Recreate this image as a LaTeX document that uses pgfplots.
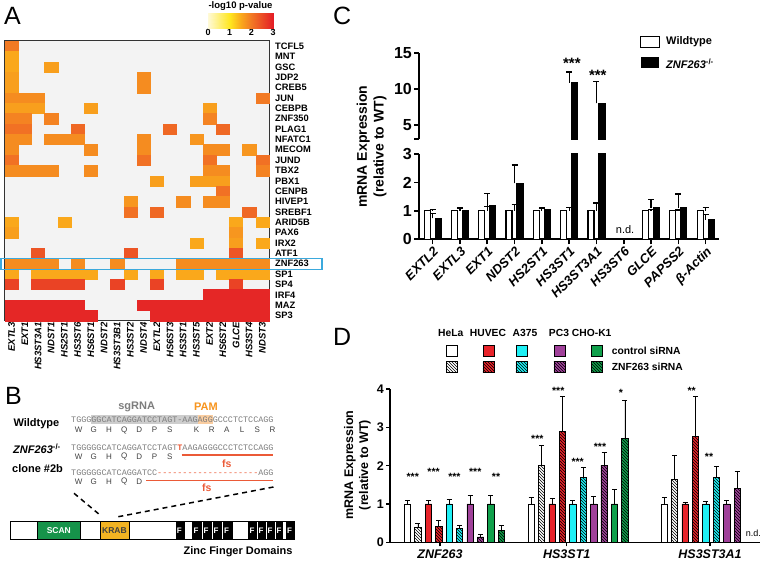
\documentclass[border=0pt]{standalone}
\usepackage{pgfplots}
\pgfplotsset{compat=1.18}
\usepackage{pgfplotstable}
\usepackage{fontspec}
\setmainfont{Liberation Sans}
\newfontfamily\seqfont{Liberation Mono}[Ligatures=TeXOff]
\usetikzlibrary{patterns}
\pgfplotsset{/pgf/number format/assume math mode=true}
\pgfplotsset{colormap={heat}{rgb255(0cm)=(255,250,215); rgb255(2cm)=(255,230,30); rgb255(3cm)=(250,168,27); rgb255(4cm)=(242,122,36); rgb255(6cm)=(228,30,38)}}
\definecolor{hmbg}{RGB}{243,243,243}
\definecolor{hlblue}{RGB}{59,169,221}
\definecolor{dred}{RGB}{232,35,42}
\definecolor{dcyan}{RGB}{30,240,245}
\definecolor{dpurple}{RGB}{160,65,154}
\definecolor{dgreen}{RGB}{16,160,75}
\definecolor{scangreen}{RGB}{22,147,74}
\definecolor{krab}{RGB}{242,179,34}
\definecolor{pamorange}{RGB}{247,148,29}
\definecolor{fsred}{RGB}{235,90,55}
\definecolor{seqgray}{RGB}{125,125,125}
\definecolor{sghl}{RGB}{205,205,205}
\definecolor{pamhl}{RGB}{250,205,160}

\pgfplotstableread{
x y v
0.5 0.5 2.0
0.5 1.5 1.5
0.5 2.5 1.5
3.5 2.5 1.6
0.5 3.5 1.6
10.5 3.5 1.8
0.5 4.5 1.6
10.5 4.5 1.8
0.5 5.5 1.8
1.5 5.5 1.8
2.5 5.5 1.8
19.5 5.5 2.0
0.5 6.5 1.6
1.5 6.5 1.6
2.5 6.5 1.6
6.5 6.5 1.6
15.5 6.5 1.6
0.5 7.5 1.9
1.5 7.5 1.9
3.5 7.5 1.9
15.5 7.5 1.9
0.5 8.5 2.1
1.5 8.5 2.1
5.5 8.5 2.2
12.5 8.5 2.2
16.5 8.5 2.2
0.5 9.5 1.8
1.5 9.5 1.8
3.5 9.5 1.8
4.5 9.5 1.8
5.5 9.5 1.8
10.5 9.5 1.8
14.5 9.5 1.7
0.5 10.5 1.8
6.5 10.5 1.8
10.5 10.5 1.8
15.5 10.5 1.8
16.5 10.5 1.8
18.5 10.5 1.7
0.5 11.5 2.1
10.5 11.5 2.1
15.5 11.5 2.1
19.5 11.5 2.1
0.5 12.5 1.8
1.5 12.5 1.8
2.5 12.5 1.8
3.5 12.5 1.8
6.5 12.5 1.8
15.5 12.5 1.8
16.5 12.5 1.8
19.5 12.5 1.9
11.5 13.5 1.6
14.5 13.5 1.6
15.5 13.5 1.6
16.5 13.5 1.6
16.5 14.5 2.1
9.5 15.5 1.7
13.5 15.5 1.8
15.5 15.5 1.8
16.5 15.5 1.8
9.5 16.5 2.1
11.5 16.5 2.2
18.5 16.5 2.2
0.5 17.5 1.5
4.5 17.5 1.5
17.5 17.5 1.5
19.5 17.5 1.5
0.5 18.5 1.6
17.5 18.5 1.7
14.5 19.5 1.5
17.5 19.5 1.6
19.5 19.5 1.5
2.5 20.5 2.4
9.5 20.5 2.4
17.5 20.5 2.4
0.5 21.5 1.8
1.5 21.5 1.8
2.5 21.5 1.8
3.5 21.5 1.8
5.5 21.5 1.8
8.5 21.5 1.8
13.5 21.5 1.8
14.5 21.5 1.8
15.5 21.5 1.8
16.5 21.5 1.8
17.5 21.5 1.8
18.5 21.5 1.8
19.5 21.5 1.8
0.5 22.5 1.5
2.5 22.5 1.5
3.5 22.5 1.5
4.5 22.5 1.5
5.5 22.5 1.5
6.5 22.5 1.5
9.5 22.5 1.5
11.5 22.5 1.5
13.5 22.5 1.5
14.5 22.5 1.5
16.5 22.5 1.5
17.5 22.5 1.5
18.5 22.5 1.5
19.5 22.5 1.5
0.5 23.5 2.6
2.5 23.5 2.6
3.5 23.5 2.6
4.5 23.5 2.6
5.5 23.5 2.6
8.5 23.5 2.6
11.5 23.5 2.6
17.5 23.5 2.6
15.5 24.5 2.9
16.5 24.5 2.9
17.5 24.5 2.9
18.5 24.5 2.9
19.5 24.5 2.9
0.5 25.5 2.9
1.5 25.5 2.9
2.5 25.5 2.9
3.5 25.5 2.9
4.5 25.5 2.9
5.5 25.5 2.9
10.5 25.5 2.9
11.5 25.5 2.9
12.5 25.5 2.9
13.5 25.5 2.9
14.5 25.5 2.9
15.5 25.5 2.9
16.5 25.5 2.9
17.5 25.5 2.9
18.5 25.5 2.9
19.5 25.5 2.9
0.5 26.5 2.9
1.5 26.5 2.9
2.5 26.5 2.9
3.5 26.5 2.9
4.5 26.5 2.9
5.5 26.5 2.9
6.5 26.5 2.9
11.5 26.5 2.9
12.5 26.5 2.9
13.5 26.5 2.9
14.5 26.5 2.9
15.5 26.5 2.9
16.5 26.5 2.9
17.5 26.5 2.9
18.5 26.5 2.9
19.5 26.5 2.9
}\hmdata

\pgfplotsset{
  cbar/.style={ybar, bar width=6pt, draw=black, line width=1.2pt,
    error bars/y dir=plus, error bars/y explicit,
    error bars/error bar style={line width=1.2pt, black},
    error bars/error mark options={rotate=90, line width=1.2pt, mark size=3pt, black}},
  dbar/.style={ybar, bar width=6.3pt, bar shift=0pt, draw=black, line width=0.7pt,
    error bars/y dir=plus, error bars/y explicit,
    error bars/error bar style={line width=0.8pt, black},
    error bars/error mark options={rotate=90, line width=0.8pt, mark size=2.5pt, black}},
  hatch/.style={postaction={pattern=north west lines, pattern color=black}},
}
\tikzset{dstar/.style={font=\fontsize{10.5}{11}\selectfont\bfseries, yshift=-2.3pt}}

\begin{document}
\begin{tikzpicture}[x=1pt,y=1pt]
\path[use as bounding box] (0,0) rectangle (762,567);

% ---------------- Panel A: heatmap ----------------
\begin{axis}[
  at={(5pt,526pt)}, anchor=north west,
  x=13.2pt, y=10.36pt,
  xmin=0, xmax=20, ymin=0, ymax=27,
  axis background/.style={fill=hmbg},
  axis on top,
  axis line style={draw=black!80, line width=1pt},
  major tick length=0pt,
  xtick={0.5,1.5,...,19.5},
  xticklabels={EXTL3,EXT1,HS3ST3A1,NDST1,HS2ST1,HS3ST6,HS6ST1,NDST2,HS3ST3B1,HS3ST2,NDST4,EXTL2,HS6ST3,HS3ST1,HS3ST5,EXT2,HS6ST2,GLCE,HS3ST4,NDST3},
  xticklabel style={rotate=90, anchor=east, inner sep=1pt, font=\fontsize{9.5}{10}\selectfont\bfseries\itshape},
  ytick={0.5,1.5,...,26.5},
  yticklabels={SP3,MAZ,IRF4,SP4,SP1,ZNF263,ATF1,IRX2,PAX6,ARID5B,SREBF1,HIVEP1,CENPB,PBX1,TBX2,JUND,MECOM,NFATC1,PLAG1,ZNF350,CEBPB,JUN,CREB5,JDP2,GSC,MNT,TCFL5},
  yticklabel pos=right,
  yticklabel style={anchor=west, inner sep=1pt, xshift=5pt, font=\fontsize{9.3}{10}\selectfont\bfseries},
  point meta min=0, point meta max=3,
]
\addplot[scatter, only marks, mark=square*, mark size=6.6pt,
  scatter src=explicit,
  scatter/use mapped color={draw=mapped color, fill=mapped color},
  mark options={yscale=0.785, line width=0.3pt}]
  table[x=x, y expr=27-\thisrow{y}, meta=v] {\hmdata};
\end{axis}
% colour scale of panel A
\begin{axis}[
  at={(208pt,538.7pt)}, anchor=south west, scale only axis,
  width=65pt, height=15pt,
  xmin=0, xmax=3, ymin=0, ymax=1,
  axis line style={draw=none},
  major tick length=0pt,
  xtick={0,1,2,3}, ytick=\empty,
  xticklabel style={font=\fontsize{9}{10}\selectfont\bfseries, inner sep=1pt},
  point meta min=0, point meta max=3,
]
\addplot[surf, shader=interp, mesh/rows=2, point meta=x] coordinates {
 (0,0) (0.5,0) (1,0) (1.5,0) (2,0) (2.5,0) (3,0)
 (0,1) (0.5,1) (1,1) (1.5,1) (2,1) (2.5,1) (3,1)};
\end{axis}
\node[font=\fontsize{9.5}{10}\selectfont\bfseries] at (240.5,561) {-log10 p-value};
\draw[hlblue, line width=1.2pt] (1,308.8) rectangle (322,297.2);
\node[anchor=base west, inner sep=0, font=\fontsize{25}{25}\selectfont] at (4,542) {A};

% ---------------- Panel C ----------------
\begin{axis}[
  at={(419pt,327.7pt)}, anchor=south west, scale only axis,
  width=300pt, height=85.3pt,
  xmin=-0.5, xmax=10.49, ymin=0, ymax=3,
  axis x line*=bottom, axis y line*=left,
  axis line style={line width=1.6pt, -},
  tick align=outside, major tick length=5pt,
  tick style={line width=1.6pt, black},
  ytick={0,1,2,3},
  yticklabel style={font=\fontsize{16}{17}\selectfont\bfseries, inner sep=2pt},
  xtick={0,...,10},
  xticklabels={EXTL2,EXTL3,EXT1,NDST2,HS2ST1,HS3ST1,HS3ST3A1,HS3ST6,GLCE,PAPSS2,β-Actin},
  xticklabel style={rotate=45, anchor=north east, inner sep=1pt, font=\fontsize{13}{14}\selectfont\bfseries\itshape},
]
\addplot[cbar, bar shift=-5.5pt, fill=white] coordinates {
 (0,1)+-(0,0.04) (1,1)+-(0,0.10) (2,1)+-(0,0.16) (3,1)+-(0,0.22) (4,1)+-(0,0.09)
 (5,1)+-(0,0.13) (6,1)+-(0,0.28) (8,1)+-(0,0.06) (9,1)+-(0,0.03) (10,1)+-(0,0.11)};
\addplot[cbar, bar shift=5.5pt, fill=black] coordinates {
 (0,0.74)+-(0,0.17) (1,1.0)+-(0,0.09) (2,1.18)+-(0,0.44) (3,1.97)+-(0,0.64) (4,1.03)+-(0,0.10)
 (5,10.9)+-(0,1.5) (6,8.0)+-(0,3.1) (8,1.11)+-(0,0.30) (9,1.11)+-(0,0.48) (10,0.68)+-(0,0.18)};
\node[font=\fontsize{11}{12}\selectfont] at (axis cs:7.05,0.35) {n.d.};
\end{axis}
\begin{axis}[
  at={(419pt,427.7pt)}, anchor=south west, scale only axis,
  width=300pt, height=86pt,
  xmin=-0.5, xmax=10.49, ymin=3, ymax=15,
  axis x line=none, axis y line*=left,
  axis line style={line width=1.6pt, -},
  tick align=outside, major tick length=5pt,
  tick style={line width=1.6pt, black},
  ytick={3,5,10,15}, yticklabels={,5,10,15},
  yticklabel style={font=\fontsize{16}{17}\selectfont\bfseries, inner sep=2pt},
]
\addplot[cbar, bar shift=5.5pt, fill=black] coordinates {(5,10.9)+-(0,1.5) (6,8.0)+-(0,3.1)};
\node[font=\fontsize{15}{15}\selectfont\bfseries, yshift=-3.3pt] at (axis cs:5.1,14.06) {***};
\node[font=\fontsize{15}{15}\selectfont\bfseries, yshift=-3.3pt] at (axis cs:6.05,12.43) {***};
\end{axis}
\node[rotate=90, align=center, font=\fontsize{14}{16.7}\selectfont\bfseries] at (371.7,420.3) {mRNA Expression\\(relative to WT)};
\draw[line width=1pt, fill=white] (640.7,519.7) rectangle (659.3,530.3);
\fill[black] (640.7,498.7) rectangle (659.3,509.7);
\node[anchor=west, inner sep=0, font=\fontsize{11}{12}\selectfont\bfseries] at (666,525.3) {Wildtype};
\node[anchor=west, inner sep=0, font=\fontsize{11}{12}\selectfont\bfseries] at (666,503.7) {\textit{ZNF263}\textsuperscript{-/-}};
\node[anchor=base west, inner sep=0, font=\fontsize{25}{25}\selectfont] at (333,542) {C};

% ---------------- Panel D ----------------
\begin{axis}[
  at={(390pt,24.7pt)}, anchor=south west, scale only axis,
  width=370pt, height=153.3pt,
  xmin=-1.68, xmax=33.83, ymin=0, ymax=4,
  clip=false,
  axis x line*=bottom, axis y line*=left,
  axis line style={line width=1.3pt, -},
  tick align=outside, major tick length=4pt,
  tick style={line width=1.3pt, black},
  ytick={0,1,2,3,4},
  yticklabel style={font=\fontsize{12.5}{13}\selectfont\bfseries, inner sep=2pt},
  xtick={3.12,15.28,29.03},
  xticklabels={ZNF263,HS3ST1,HS3ST3A1},
  xticklabel style={font=\fontsize{12.5}{13}\selectfont\bfseries\itshape},
]
\addplot[dbar, fill=white] coordinates {(0,1.0)+-(0,0.09) (11.87,1.0)+-(0,0.17) (24.64,1.0)+-(0,0.17)};
\addplot[dbar, fill=white, hatch] coordinates {(1,0.39)+-(0,0.11) (12.87,2.0)+-(0,0.52) (25.64,1.63)+-(0,0.65)};
\addplot[dbar, fill=dred] coordinates {(2,1.0)+-(0,0.10) (13.87,1.0)+-(0,0.15) (26.64,1.0)+-(0,0.04)};
\addplot[dbar, fill=dred, hatch] coordinates {(3,0.42)+-(0,0.16) (14.87,2.89)+-(0,0.91) (27.64,2.76)+-(0,1.04)};
\addplot[dbar, fill=dcyan] coordinates {(4,1.0)+-(0,0.11) (15.87,1.0)+-(0,0.10) (28.64,1.0)+-(0,0.06)};
\addplot[dbar, fill=dcyan, hatch] coordinates {(5,0.37)+-(0,0.06) (16.87,1.7)+-(0,0.25) (29.64,1.7)+-(0,0.27)};
\addplot[dbar, fill=dpurple] coordinates {(6,1.0)+-(0,0.23) (17.87,1.0)+-(0,0.20) (30.64,1.0)+-(0,0.10)};
\addplot[dbar, fill=dpurple, hatch] coordinates {(7,0.14)+-(0,0.07) (18.87,2.0)+-(0,0.35) (31.64,1.4)+-(0,0.44)};
\addplot[dbar, fill=dgreen] coordinates {(8,1.0)+-(0,0.23) (19.87,1.0)+-(0,0.39)};
\addplot[dbar, fill=dgreen, hatch] coordinates {(9,0.3)+-(0,0.13) (20.87,2.71)+-(0,1.0)};
\node[dstar] at (axis cs:0.5,1.76) {***};
\node[dstar] at (axis cs:2.5,1.91) {***};
\node[dstar] at (axis cs:4.5,1.76) {***};
\node[dstar] at (axis cs:6.5,1.91) {***};
\node[dstar] at (axis cs:8.5,1.76) {**};
\node[dstar] at (axis cs:12.46,2.76) {***};
\node[dstar] at (axis cs:14.47,4.02) {***};
\node[dstar] at (axis cs:16.33,2.15) {***};
\node[dstar] at (axis cs:18.47,2.56) {***};
\node[dstar] at (axis cs:20.49,3.96) {*};
\node[dstar] at (axis cs:27.27,4.02) {**};
\node[dstar] at (axis cs:28.94,2.30) {**};
\node[font=\fontsize{9}{10}\selectfont] at (axis cs:33.19,0.23) {n.d.};
\end{axis}
\node[rotate=90, align=center, font=\fontsize{12.5}{15}\selectfont\bfseries] at (357.5,102) {mRNA Expression\\(relative to WT)};
\foreach \lx/\lt in {450.7/HeLa, 488/HUVEC, 525/A375, 559/PC3, 591.7/CHO-K1}
  {\node[font=\fontsize{10.3}{11}\selectfont\bfseries] at (\lx,234) {\lt};}
\foreach \cx/\cc in {451.7/white, 488.3/dred, 521.3/dcyan, 559.3/dpurple, 596.7/dgreen} {
  \draw[fill=\cc, line width=0.6pt] (\cx-5.5,211) rectangle (\cx+5.5,222);
  \draw[fill=\cc, line width=0.6pt, postaction={pattern=north west lines, pattern color=black}] (\cx-5.5,194.5) rectangle (\cx+5.5,205.5);
}
\node[anchor=west, inner sep=0, font=\fontsize{10.3}{11}\selectfont\bfseries] at (611.7,216.3) {control siRNA};
\node[anchor=west, inner sep=0, font=\fontsize{10.3}{11}\selectfont\bfseries] at (611.7,199.7) {ZNF263 siRNA};
\node[anchor=base west, inner sep=0, font=\fontsize{25}{25}\selectfont] at (333,221) {D};

% ---------------- Panel B ----------------
\node[anchor=base west, inner sep=0, font=\fontsize{25}{25}\selectfont] at (5,162) {B};
\node[font=\fontsize{11}{12}\selectfont\bfseries, text=seqgray] at (136.7,160) {sgRNA};
\node[font=\fontsize{11}{12}\selectfont\bfseries, text=pamorange] at (206,160) {PAM};
\fill[sghl] (71+4*5.06,143.3) rectangle (71+25*5.06,151.7);
\fill[pamhl] (71+25*5.06,143.3) rectangle (71+28*5.06,151.7);
\node[anchor=west, inner sep=0, font=\seqfont\fontsize{8.43}{9}\selectfont, text=seqgray] at (71,147.5) {TGGGGGCATCAGGATCCTAGT-AAGAGGGCCCTCTCCAGG};
\node[anchor=west, inner sep=0, font=\seqfont\fontsize{8.43}{9}\selectfont, text=seqgray] at (71,119.3) {TGGGGGCATCAGGATCCTAGT\textcolor{fsred}{\bfseries T}AAGAGGGCCCTCTCCAGG};
\node[anchor=west, inner sep=0, font=\seqfont\fontsize{8.43}{9}\selectfont, text=seqgray] at (71,94.7) {TGGGGGCATCAGGATCC\textcolor{fsred}{--------------------}AGG};
\foreach \i/\l in {1.5/W,4.5/G,7.5/H,10.5/Q,13.5/D,16.5/P,19.5/S,24.8/K,27.8/R,30.8/A,33.8/L,36.8/S,39.8/R}
  {\node[font=\fontsize{8}{9}\selectfont, text=black!75] at (71+\i*5.06,137) {\l};}
\foreach \i/\l in {1.5/W,4.5/G,7.5/H,10.5/Q,13.5/D,16.5/P,19.5/S}
  {\node[font=\fontsize{8}{9}\selectfont, text=black!75] at (71+\i*5.06,110.5) {\l};}
\foreach \i/\l in {1.5/W,4.5/G,7.5/H,10.5/Q,13.5/D}
  {\node[font=\fontsize{8}{9}\selectfont, text=black!75] at (71+\i*5.06,85.7) {\l};}
\draw[fsred, line width=1.6pt] (181.7,112) -- (273.3,112);
\draw[fsred, line width=1.6pt] (146,86.3) -- (273.3,86.3);
\node[font=\fontsize{10.5}{11}\selectfont\bfseries, text=fsred] at (226.7,103.7) {fs};
\node[font=\fontsize{10.5}{11}\selectfont\bfseries, text=fsred] at (206.7,79.3) {fs};
\node[anchor=west, inner sep=0, font=\fontsize{11}{12}\selectfont\bfseries] at (13.3,143.7) {Wildtype};
\node[anchor=west, inner sep=0, font=\fontsize{11}{12}\selectfont\bfseries] at (13,118.7) {\textit{ZNF263}\textsuperscript{-/-}};
\node[anchor=west, inner sep=0, font=\fontsize{11}{12}\selectfont\bfseries] at (12,98.7) {clone \#2b};
\draw[line width=1.5pt, dash pattern=on 5pt off 4pt] (74,73.7) -- (100,52);
\draw[line width=1.5pt, dash pattern=on 5pt off 4pt] (118.3,50.3) -- (275,80.3);
% domain bar
\draw[line width=0.8pt, fill=white] (10.7,27.7) rectangle (294,45.3);
\draw[line width=0.8pt, fill=scangreen] (37.7,27.7) rectangle (80,45.3);
\node[font=\fontsize{8.5}{9}\selectfont\bfseries, text=white] at (58.8,36.5) {SCAN};
\draw[line width=0.8pt, fill=krab] (100,27.7) rectangle (129,45.3);
\node[font=\fontsize{8.5}{9}\selectfont\bfseries, text=black!75] at (114.5,36.5) {KRAB};
\foreach \a/\b in {175.7/184.5, 192.3/201.5, 202.5/211.5, 212.5/222, 223/233, 248.3/256.5, 257.5/265.5, 266.5/274.5, 275.5/283.3, 286/294} {
  \fill[black] (\a,27.7) rectangle (\b,45.3);
  \node[anchor=west, inner sep=0, font=\fontsize{8}{9}\selectfont\bfseries, text=white] at (\a+1,36.5) {F};
}
\draw[line width=0.8pt] (10.7,27.7) rectangle (294,45.3);
\node[font=\fontsize{11}{12}\selectfont\bfseries] at (238,15.3) {Zinc Finger Domains};
\end{tikzpicture}
\end{document}
